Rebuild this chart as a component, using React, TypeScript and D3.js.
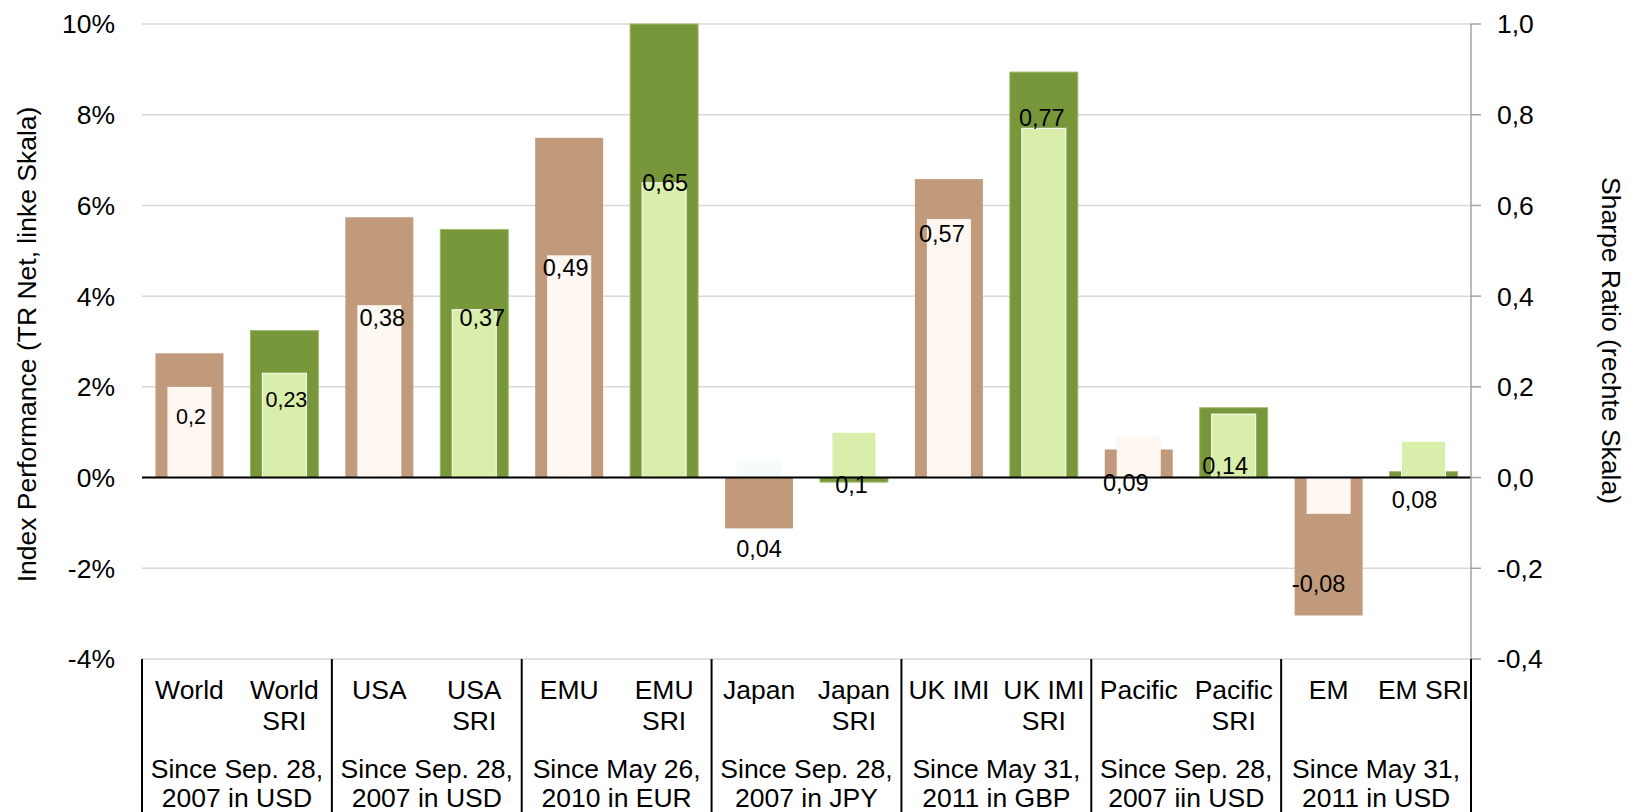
import React from "react";
import * as d3 from "d3";

// ---------- data ----------
const categories = [
  "World", "World SRI", "USA", "USA SRI", "EMU", "EMU SRI", "Japan", "Japan SRI",
  "UK IMI", "UK IMI SRI", "Pacific", "Pacific SRI", "EM", "EM SRI",
];
const categoryLabels = [
  "World", "World\nSRI", "USA", "USA\nSRI", "EMU", "EMU\nSRI", "Japan", "Japan\nSRI",
  "UK IMI", "UK IMI\nSRI", "Pacific", "Pacific\nSRI", "EM", "EM SRI",
];
const groupLabels = [
  "Since Sep. 28,\n2007 in USD",
  "Since Sep. 28,\n2007 in USD",
  "Since May 26,\n2010 in EUR",
  "Since Sep. 28,\n2007 in JPY",
  "Since May 31,\n2011 in GBP",
  "Since Sep. 28,\n2007 iin USD",
  "Since May 31,\n2011 in USD",
];
// Index performance (TR Net, %), left scale
const performance = [2.74, 3.24, 5.74, 5.47, 7.49, 10.0, -1.12, -0.1, 6.58, 8.94, 0.62, 1.54, -3.04, 0.13];
// Sharpe ratio, right scale
const sharpe = [0.2, 0.23, 0.38, 0.37, 0.49, 0.65, 0.04, 0.1, 0.57, 0.77, 0.09, 0.14, -0.08, 0.08];

const leftTicks = [-4, -2, 0, 2, 4, 6, 8, 10];
const rightTicks = [-0.4, -0.2, 0, 0.2, 0.4, 0.6, 0.8, 1.0];

const leftTitle = "Index Performance (TR Net, linke Skala)";
const rightTitle = "Sharpe Ratio (rechte Skala)";

// ---------- layout / style ----------
const W = 1629;
const H = 812;
const M = { left: 142, right: 1471, top: 24, bottom: 659 };
const FONT = "'Liberation Sans', Arial, Helvetica, sans-serif";
const FS = 26.5;

const COLORS = {
  tan: "#c19a7b",
  cream: "#fff8f2",
  japanInner: "#f6fcfb",
  green: "#77973a",
  greenBorder: "#9dba67",
  lightGreen: "#d8eeaa",
  grid: "#d9d9d9",
  axisGray: "#a3a3a3",
};

// label placement tweaks [dx, dy from inner-bar end, fontSize]
const LABEL_LAYOUT: [number, number, number][] = [
  [1.5, 29.5, 21.5], [2, 26, 21.5], [3, 12, 23.5], [8, 8, 23.5], [-3.5, 12, 23.5], [1, 0, 23.5],
  [0, 89.5, 23.5], [-2.5, 52, 23.5], [-7, 15, 23.5], [-2, -11, 23.5], [-13, 46, 23.5],
  [-8.5, 52, 23.5], [-10, 69.3, 23.5], [-9, 58, 23.5],
];

export default function App() {
  const x = d3.scaleBand<string>().domain(categories).range([M.left, M.right]).padding(0);
  const groupKeys = groupLabels.map((_, i) => String(i));
  const xg = d3.scaleBand<string>().domain(groupKeys).range([M.left, M.right]).padding(0);
  const yL = d3.scaleLinear().domain([-4, 10]).range([M.bottom, M.top]);
  const yR = d3.scaleLinear().domain([-0.4, 1.0]).range([M.bottom, M.top]);

  const bw = x.bandwidth();
  const outerW = bw * 0.716;
  const innerW = bw * 0.464;

  const fmtRight = (v: number) => (Math.abs(v) < 1e-9 ? "0,0" : v.toFixed(1).replace(".", ","));
  const fmtSharpe = (v: number) => String(v).replace(".", ",");

  return (
    <svg
      width={W}
      height={H}
      style={{ position: "absolute", left: 0, top: 0, display: "block", background: "#fff" }}
      fontFamily={FONT}
    >
      <rect x={0} y={0} width={W} height={H} fill="#fff" />

      {/* gridlines */}
      {leftTicks.map((t) => (
        <line
          key={"g" + t}
          x1={M.left}
          x2={M.right}
          y1={yL(t)}
          y2={yL(t)}
          stroke={COLORS.grid}
          strokeWidth={1.5}
        />
      ))}

      {/* outer bars: index performance */}
      {categories.map((c, i) => {
        const v = performance[i];
        const cx = (x(c) as number) + bw / 2;
        const y0 = yL(0);
        const y1 = yL(v);
        const isSri = i % 2 === 1;
        return (
          <rect
            key={"o" + c}
            x={cx - outerW / 2}
            y={Math.min(y0, y1)}
            width={outerW}
            height={Math.abs(y1 - y0)}
            fill={isSri ? COLORS.green : COLORS.tan}
            stroke={isSri ? COLORS.greenBorder : "none"}
            strokeWidth={isSri ? 1 : 0}
          />
        );
      })}

      {/* inner bars: sharpe ratio */}
      {categories.map((c, i) => {
        const v = sharpe[i];
        const cx = (x(c) as number) + bw / 2;
        const y0 = yR(0);
        const y1 = yR(v);
        const isSri = i % 2 === 1;
        const fill = isSri ? COLORS.lightGreen : c === "Japan" ? COLORS.japanInner : COLORS.cream;
        return (
          <rect
            key={"i" + c}
            x={cx - innerW / 2}
            y={Math.min(y0, y1)}
            width={innerW}
            height={Math.abs(y1 - y0)}
            fill={fill}
            stroke={isSri ? "#ffffff" : "none"}
            strokeWidth={isSri ? 1 : 0}
          />
        );
      })}

      {/* zero line */}
      <line x1={M.left} x2={M.right} y1={yL(0)} y2={yL(0)} stroke="#000" strokeWidth={2} />

      {/* data labels */}
      {categories.map((c, i) => {
        const v = sharpe[i];
        const cx = (x(c) as number) + bw / 2;
        const [dx, dy, fs] = LABEL_LAYOUT[i];
        const end = yR(v);
        return (
          <text
            key={"l" + c}
            x={cx + dx}
            y={end + dy + 0.358 * fs}
            fontSize={fs}
            textAnchor="middle"
            fill="#000"
          >
            {fmtSharpe(v)}
          </text>
        );
      })}

      {/* left tick labels */}
      {leftTicks.map((t) => (
        <text
          key={"lt" + t}
          x={115}
          y={yL(t) + 0.358 * FS}
          fontSize={FS}
          textAnchor="end"
          fill="#000"
        >
          {`${t}%`}
        </text>
      ))}

      {/* right axis */}
      <line x1={M.right} x2={M.right} y1={M.top} y2={M.bottom} stroke={COLORS.axisGray} strokeWidth={1.5} />
      {rightTicks.map((t) => (
        <g key={"rt" + t}>
          <line x1={M.right} x2={M.right + 10} y1={yR(t)} y2={yR(t)} stroke={COLORS.axisGray} strokeWidth={1.5} />
          <text x={1497} y={yR(t) + 0.358 * FS} fontSize={FS} textAnchor="start" fill="#000">
            {fmtRight(t)}
          </text>
        </g>
      ))}

      {/* axis titles */}
      <text
        transform={`translate(36, ${(M.top + M.bottom) / 2 + 3}) rotate(-90)`}
        fontSize={FS}
        textAnchor="middle"
        fill="#000"
      >
        {leftTitle}
      </text>
      <text
        transform={`translate(1602, ${(M.top + M.bottom) / 2 - 1}) rotate(90)`}
        fontSize={FS}
        textAnchor="middle"
        fill="#000"
      >
        {rightTitle}
      </text>

      {/* category table */}
      {groupKeys.map((g) => (
        <line
          key={"sep" + g}
          x1={xg(g) as number}
          x2={xg(g) as number}
          y1={M.bottom}
          y2={H}
          stroke="#000"
          strokeWidth={2}
        />
      ))}
      <line x1={M.right} x2={M.right} y1={M.bottom} y2={H} stroke="#000" strokeWidth={2} />

      {categories.map((c, i) => {
        const cx = (x(c) as number) + bw / 2;
        const lines = categoryLabels[i].split("\n");
        return (
          <text key={"cl" + c} fontSize={FS} textAnchor="middle" fill="#000">
            {lines.map((ln, k) => (
              <tspan key={k} x={cx} y={699 + k * 31}>
                {ln}
              </tspan>
            ))}
          </text>
        );
      })}

      {groupKeys.map((g, i) => {
        const cx = (xg(g) as number) + xg.bandwidth() / 2;
        const lines = groupLabels[i].split("\n");
        return (
          <text key={"gl" + g} fontSize={FS} textAnchor="middle" fill="#000">
            {lines.map((ln, k) => (
              <tspan key={k} x={cx} y={778 + k * 29}>
                {ln}
              </tspan>
            ))}
          </text>
        );
      })}
    </svg>
  );
}
